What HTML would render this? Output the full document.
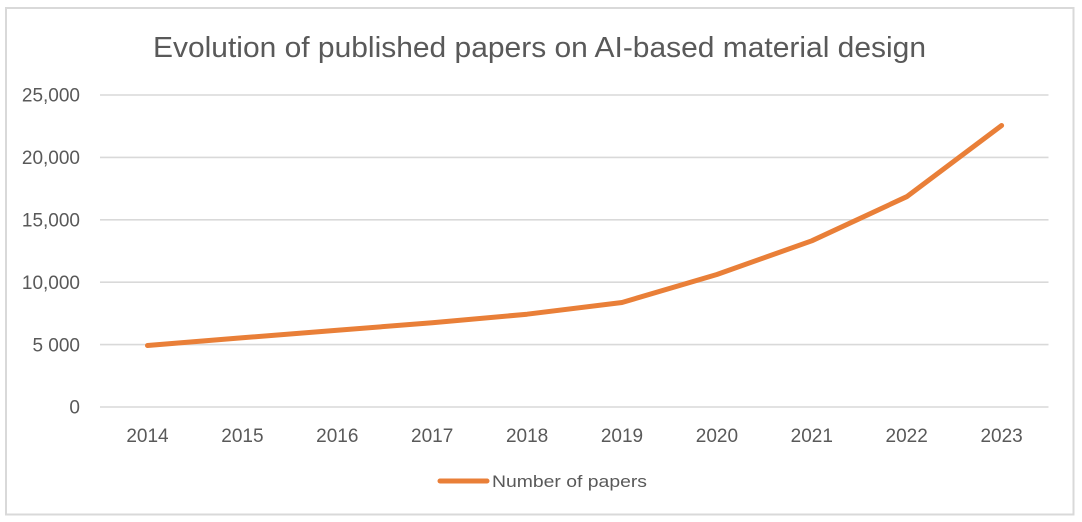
<!DOCTYPE html>
<html>
<head>
<meta charset="utf-8">
<style>
html,body{margin:0;padding:0;background:#fff;}
svg{display:block;}
text{font-family:"Liberation Sans",sans-serif;fill:#595959;}
</style>
</head>
<body>
<svg width="1082" height="522" viewBox="0 0 1082 522" xmlns="http://www.w3.org/2000/svg">
<rect x="0" y="0" width="1082" height="522" fill="#fff"/>
<rect x="6" y="8" width="1067.5" height="506.5" fill="#fff" stroke="#d9d9d9" stroke-width="2"/>
<text x="153" y="57" font-size="29" textLength="773" lengthAdjust="spacingAndGlyphs">Evolution of published papers on AI-based material design</text>
<g stroke="#d9d9d9" stroke-width="1.6">
<line x1="100" y1="95" x2="1048.5" y2="95"/>
<line x1="100" y1="157.4" x2="1048.5" y2="157.4"/>
<line x1="100" y1="219.8" x2="1048.5" y2="219.8"/>
<line x1="100" y1="282.2" x2="1048.5" y2="282.2"/>
<line x1="100" y1="344.6" x2="1048.5" y2="344.6"/>
<line x1="100" y1="407" x2="1048.5" y2="407"/>
</g>
<g font-size="19" text-anchor="end">
<text x="80" y="101.7">25,000</text>
<text x="80" y="164.1">20,000</text>
<text x="80" y="226.5">15,000</text>
<text x="80" y="288.9">10,000</text>
<text x="80" y="351.3">5 000</text>
<text x="80" y="413.7">0</text>
</g>
<g font-size="19" text-anchor="middle">
<text x="147.5" y="442">2014</text>
<text x="242.4" y="442">2015</text>
<text x="337.3" y="442">2016</text>
<text x="432.2" y="442">2017</text>
<text x="527.1" y="442">2018</text>
<text x="622" y="442">2019</text>
<text x="716.9" y="442">2020</text>
<text x="811.8" y="442">2021</text>
<text x="906.7" y="442">2022</text>
<text x="1001.6" y="442">2023</text>
</g>
<polyline fill="none" stroke="#E97F38" stroke-width="5" stroke-linecap="round" stroke-linejoin="round"
points="147.5,345.5 242.4,337.8 337.3,330.2 432.2,322.8 527.1,314.2 622,302.5 716.9,274.5 811.8,240.8 906.7,196.7 1001.6,125.5"/>
<line x1="440" y1="481" x2="487" y2="481" stroke="#E97F38" stroke-width="5" stroke-linecap="round"/>
<text x="492" y="487" font-size="16.5" textLength="155" lengthAdjust="spacingAndGlyphs">Number of papers</text>
</svg>
</body>
</html>
